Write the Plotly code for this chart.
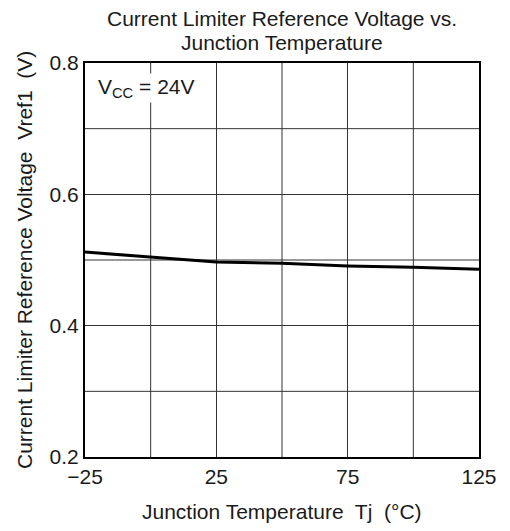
import plotly.graph_objects as go

temps = [-25, 0, 25, 50, 75, 100, 125]
vref = [0.512, 0.505, 0.497, 0.495, 0.491, 0.489, 0.486]
x_ticks = [-25, 25, 75, 125]
x_tick_labels = ["\u221225", "25", "75", "125"]
y_ticks = [0.2, 0.4, 0.6, 0.8]
y_tick_labels = ["0.2", "0.4", "0.6", "0.8"]

font = "Liberation Sans, Arial, sans-serif"
tc = "#1a1a1a"
OFF = 8  # page body margin
W, H = 510 - OFF, 531 - OFF
L, T = 85 - OFF, 63 - OFF
R = W - (479 - OFF)
B = H - (457 - OFF)
pw, ph = W - L - R, H - T - B

fig = go.Figure()
fig.add_trace(go.Scatter(x=temps, y=vref, mode="lines",
                         line=dict(color="black", width=3), showlegend=False))

fig.update_layout(
    width=W, height=H,
    margin=dict(l=L, r=R, t=T, b=B, autoexpand=False),
    paper_bgcolor="white", plot_bgcolor="white",
    font=dict(family=font, color=tc, size=21),
    xaxis=dict(range=[-25, 125], automargin=False,
               showgrid=True, gridcolor="#333", gridwidth=1,
               showline=True, linecolor="black", linewidth=2, mirror=True,
               ticks="", zeroline=False,
               tickmode="array", tickvals=x_ticks, ticktext=x_tick_labels,
               tickfont=dict(size=21, family=font, color=tc)),
    yaxis=dict(range=[0.2, 0.8], automargin=False,
               showgrid=True, gridcolor="#333", gridwidth=1,
               showline=True, linecolor="black", linewidth=2, mirror=True,
               ticks="", zeroline=False,
               tickmode="array", tickvals=y_ticks, ticktext=y_tick_labels,
               tickfont=dict(size=21, family=font, color=tc)),
)

# minor gridlines
for v in [0.3, 0.5, 0.7]:
    fig.add_shape(type="line", xref="paper", x0=0, x1=1, yref="y", y0=v, y1=v,
                  line=dict(color="#333", width=1), layer="below")
for t in [0, 50, 100]:
    fig.add_shape(type="line", xref="x", x0=t, x1=t, yref="paper", y0=0, y1=1,
                  line=dict(color="#333", width=1), layer="below")

def py(pix):
    return (H - B - (pix - OFF)) / ph

def px(pix):
    return ((pix - OFF) - L) / pw

fs = 21
fig.add_annotation(x=px(282), y=py(18), xref="paper", yref="paper",
                   text="Current Limiter Reference Voltage vs.", showarrow=False,
                   xanchor="center", yanchor="middle",
                   font=dict(size=fs, family=font, color=tc))
fig.add_annotation(x=px(282), y=py(42), xref="paper", yref="paper",
                   text="Junction Temperature", showarrow=False,
                   xanchor="center", yanchor="middle",
                   font=dict(size=fs, family=font, color=tc))
fig.add_annotation(x=px(282), y=py(512), xref="paper", yref="paper",
                   text="Junction Temperature  Tj  (\u00b0C)", showarrow=False,
                   xanchor="center", yanchor="middle",
                   font=dict(size=fs, family=font, color=tc))
fig.add_annotation(x=px(24), y=py(260), xref="paper", yref="paper",
                   text="Current Limiter Reference Voltage  Vref1  (V)", showarrow=False,
                   textangle=-90, xanchor="center", yanchor="middle",
                   font=dict(size=fs, family=font, color=tc))

fig.add_annotation(x=px(146), y=py(88), xref="paper", yref="paper",
                   xanchor="center", yanchor="middle",
                   text="V<sub>CC</sub> = 24V", showarrow=False,
                   bgcolor="white", font=dict(size=fs, family=font, color=tc))

fig.write_html("out.html")
